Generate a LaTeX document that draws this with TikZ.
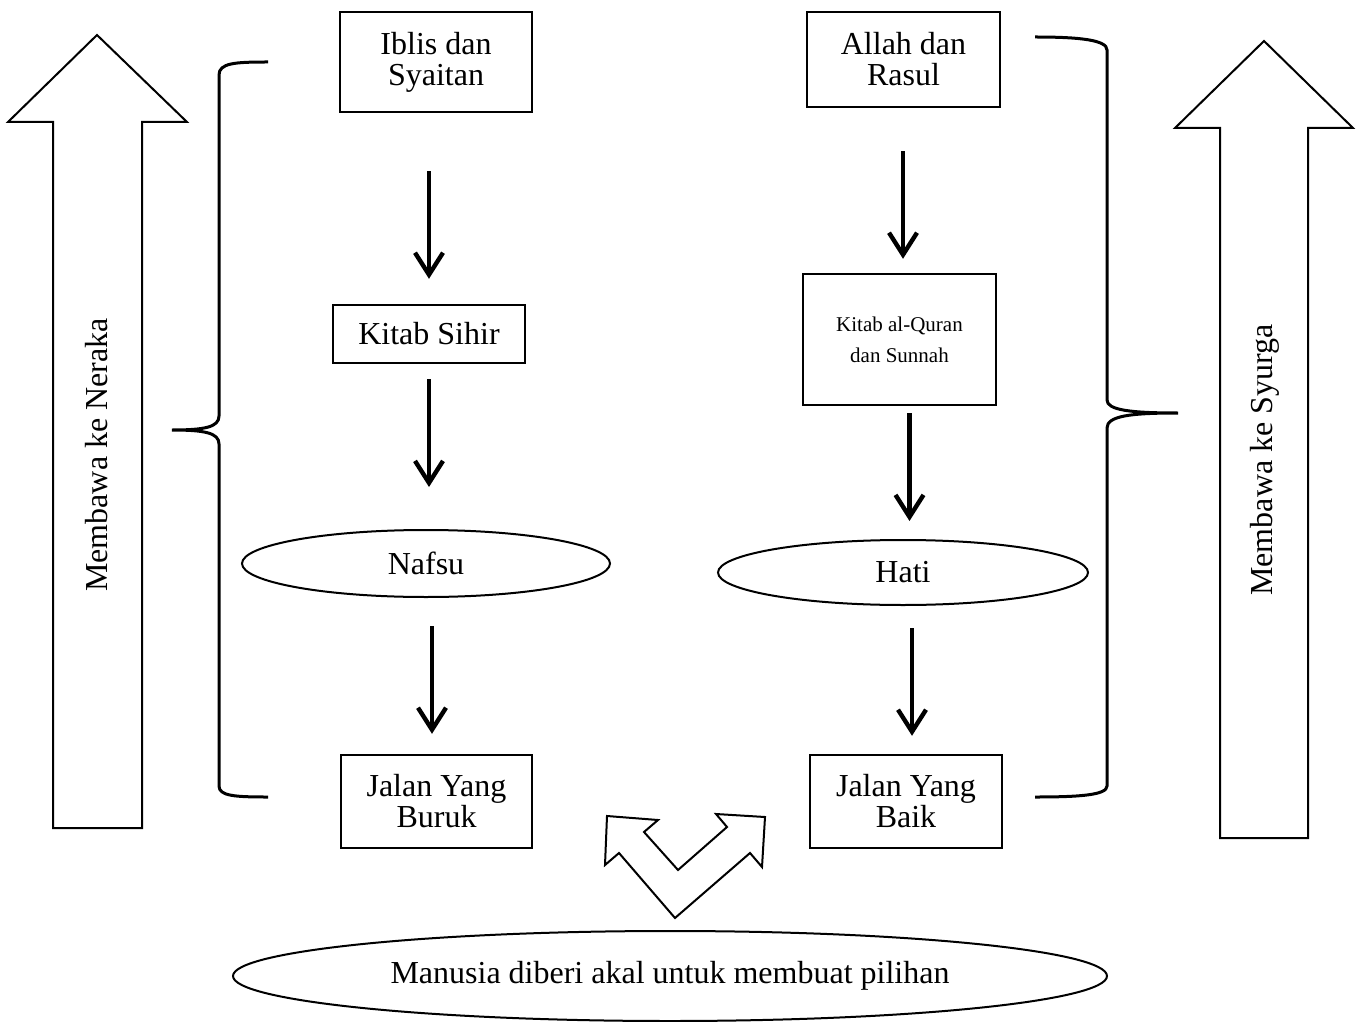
\documentclass[tikz,border=0pt]{standalone}
\usepackage{fontspec}
\setmainfont{Liberation Serif}
\usetikzlibrary{shapes.geometric,arrows.meta}
\begin{document}
\begin{tikzpicture}[x=0.5pt,y=-0.5pt,
  txt/.style={font=\fontsize{16}{15.5}\selectfont, align=center},
  boxnode/.style={txt, draw, line width=1.2pt, inner sep=0pt},
  ellnode/.style={txt, draw, ellipse, line width=1pt, inner sep=0pt},
  arr/.style={line width=2.2pt, -{Straight Barb[length=11pt,width=14pt,line width=2.2pt]}},
  brace/.style={line width=1.5pt},
  bigarrow/.style={draw, line width=1pt, fill=white, line join=miter}
]
\useasboundingbox (0,0) rectangle (1363,1021);
\clip (0,0) rectangle (1363,1021);

% boxes and ellipses
\node[boxnode, minimum width=96pt, minimum height=50pt] (iblis) at (436,62) {Iblis dan\\Syaitan};
\node[boxnode, minimum width=96.5pt, minimum height=47.5pt] (allah) at (903.5,59.5) {Allah dan\\Rasul};
\node[boxnode, minimum width=96pt, minimum height=29pt] (sihir) at (429,334) {Kitab Sihir};
\node[boxnode, minimum width=96.5pt, minimum height=65.5pt, font=\fontsize{10.5}{15.5}\selectfont] (quran) at (899.5,339.5) {Kitab al-Quran\\dan Sunnah};
\node[ellnode, minimum width=184pt, minimum height=33.5pt] (nafsu) at (426,563.5) {Nafsu};
\node[ellnode, minimum width=185pt, minimum height=32.5pt] (hati) at (903,572.5) {Hati};
\node[boxnode, minimum width=95.5pt, minimum height=46.5pt] (buruk) at (436.5,801.5) {Jalan Yang\\Buruk};
\node[boxnode, minimum width=96pt, minimum height=46.5pt] (baik) at (906,801.5) {Jalan Yang\\Baik};
\node[ellnode, minimum width=437pt, minimum height=45pt] (manusia) at (670,976) {Manusia diberi akal untuk membuat pilihan};

% flow arrows
\draw[arr, shorten <=29pt, shorten >=12.5pt] (sihir.north |- iblis.south) -- (sihir.north);
\draw[arr, shorten <=7.5pt, shorten >=21pt] (sihir.south) -- (sihir.south |- nafsu.north);
\draw[arr, shorten <=14pt, shorten >=10pt] ([xshift=3pt]nafsu.south) -- ([xshift=3pt]nafsu.south |- buruk.north);
\draw[arr, shorten <=21.5pt, shorten >=7pt] ([xshift=-0.25pt]allah.south) -- ([xshift=-0.25pt]allah.south |- quran.north);
\draw[arr, shorten <=3.5pt, shorten >=9pt] ([xshift=5pt]quran.south) -- ([xshift=5pt]quran.south |- hati.north);
\draw[arr, shorten <=11pt, shorten >=9pt] ([xshift=4.5pt]hati.south) -- ([xshift=4.5pt]hati.south |- baik.north);

% braces
\draw[brace] (268,62) .. controls (235,62) and (219,63) .. (219,75) -- (219,416)
  .. controls (219,427) and (205,430) .. (172,430)
  .. controls (205,430) and (219,433) .. (219,444) -- (219,786)
  .. controls (219,796) and (235,797) .. (268,797);
\draw[brace] (1035,37) .. controls (1080,37) and (1107,40) .. (1107,50) -- (1107,400)
  .. controls (1107,410) and (1130,413) .. (1178,413)
  .. controls (1130,413) and (1107,416) .. (1107,428) -- (1107,786)
  .. controls (1107,795) and (1080,797) .. (1035,797);

% big arrows
\draw[bigarrow] (97,35) -- (187,122) -- (142,122) -- (142,828) -- (53,828) -- (53,122) -- (8,122) -- cycle;
\node[txt, rotate=90] (neraka) at (97,455) {Membawa ke Neraka};
\draw[bigarrow] (1264,41) -- (1353,128) -- (1308,128) -- (1308,838) -- (1220,838) -- (1220,128) -- (1175,128) -- cycle;
\node[txt, rotate=90] (syurga) at (1265,460) {Membawa ke Syurga};

% V double arrow
\draw[line width=1pt, line join=miter] (607,816) -- (658,820) -- (644,832) -- (678,870) -- (727,827)
  -- (716,814) -- (765,817) -- (762,867) -- (750,853) -- (675,918) -- (619,853) -- (605,865) -- cycle;
\end{tikzpicture}
\end{document}
